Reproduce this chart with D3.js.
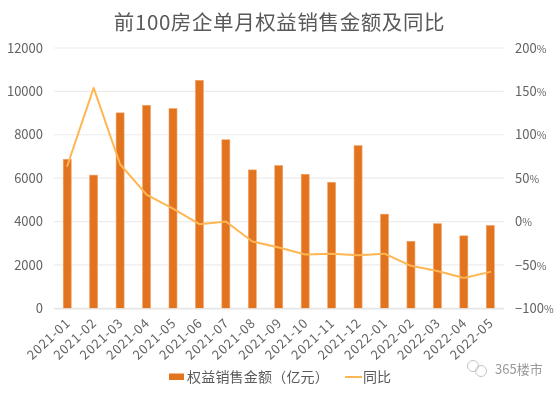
<!DOCTYPE html>
<html>
<head>
<meta charset="utf-8">
<script src="https://cdn.jsdelivr.net/npm/d3@7"></script>
<style>
  html, body { margin: 0; padding: 0; background: #fff; }
  text { font-family: "Noto Sans CJK SC", "Noto Sans", sans-serif; }
  svg { display: block; filter: blur(0.3px); }
</style>
</head>
<body>
<svg id="chart" width="558" height="393"></svg>
<script>
const months = ['2021-01', '2021-02', '2021-03', '2021-04', '2021-05', '2021-06', '2021-07', '2021-08', '2021-09',
  '2021-10', '2021-11', '2021-12', '2022-01', '2022-02', '2022-03', '2022-04', '2022-05'];
const sales = [6870, 6140, 9010, 9360, 9210, 10510, 7770, 6380, 6580, 6180, 5810, 7500, 4340, 3090, 3900, 3340, 3820];
const yoy = [64, 154, 66, 31, 15, -3, 0, -23, -30, -38, -37, -39, -37, -51, -57, -65, -58];
const salesTicks = [0, 2000, 4000, 6000, 8000, 10000, 12000];
const yoyTicks = [-100, -50, 0, 50, 100, 150, 200];

const svg = d3.select('#chart');
const plotLeft = 54, plotRight = 503.5, plotTop = 48, plotBottom = 308.3;
const textColor = '#636363';

const x = d3.scaleBand().domain(months).range([plotLeft, plotRight]);
const y = d3.scaleLinear().domain([0, 12000]).range([plotBottom, plotTop]);
const y2 = d3.scaleLinear().domain([-100, 200]).range([plotBottom, plotTop]);

svg.append('text')
  .attr('x', 279.5).attr('y', 30)
  .attr('text-anchor', 'middle')
  .attr('font-size', 20.5)
  .attr('letter-spacing', 0.6)
  .attr('fill', '#595959')
  .text('前100房企单月权益销售金额及同比');

// gridlines
svg.append('g').selectAll('line')
  .data(salesTicks)
  .enter()
  .append('line')
  .attr('x1', plotLeft).attr('x2', plotRight)
  .attr('y1', d => y(d)).attr('y2', d => y(d))
  .attr('stroke', '#ececec')
  .attr('stroke-width', 1.2);

// left axis
const leftAxis = svg.append('g')
  .attr('transform', `translate(${plotLeft},0)`)
  .call(d3.axisLeft(y).tickValues(salesTicks).tickFormat(d3.format('d')).tickSize(0).tickPadding(11));
leftAxis.select('.domain').remove();
leftAxis.selectAll('text').attr('font-size', 13).attr('fill', textColor);

// right axis, the % sign is narrow in the reference
const rightAxis = svg.append('g')
  .attr('transform', `translate(${plotRight},0)`)
  .call(d3.axisRight(y2).tickValues(yoyTicks).tickSize(0).tickPadding(11.5));
rightAxis.select('.domain').remove();
rightAxis.selectAll('text').attr('font-size', 13).attr('fill', textColor);
rightAxis.selectAll('text').append('tspan').attr('font-size', 10.5).text('%');

// bars
svg.append('g').selectAll('rect')
  .data(months)
  .enter()
  .append('rect')
  .attr('x', d => x(d) + x.bandwidth() / 2 - 4)
  .attr('y', (d, i) => y(sales[i]))
  .attr('width', 8)
  .attr('height', (d, i) => plotBottom - y(sales[i]))
  .attr('fill', '#e2741f')
  .attr('stroke', '#f2a469')
  .attr('stroke-width', 0.6);

// category labels
const bottomAxis = svg.append('g')
  .attr('transform', `translate(0,${plotBottom})`)
  .call(d3.axisBottom(x).tickSize(0));
bottomAxis.select('.domain').attr('stroke', '#e4e4e4').attr('stroke-width', 1.2);
bottomAxis.selectAll('text')
  .attr('font-size', 13)
  .attr('letter-spacing', 0.8)
  .attr('fill', textColor)
  .attr('text-anchor', 'end')
  .attr('dy', 0)
  .attr('transform', 'translate(2,13.5) rotate(-43)');

// yoy line
const line = d3.line()
  .x((d, i) => x(months[i]) + x.bandwidth() / 2)
  .y(d => y2(d));

svg.append('path')
  .attr('d', line(yoy))
  .attr('fill', 'none')
  .attr('stroke', '#ffb653')
  .attr('stroke-width', 2)
  .attr('stroke-linejoin', 'round')
  .attr('stroke-linecap', 'round');

// legend
svg.append('rect').attr('x', 169).attr('y', 373.5).attr('width', 15).attr('height', 6.5).attr('fill', '#e2741f');
svg.append('text').attr('x', 187).attr('y', 382).attr('font-size', 14).attr('letter-spacing', 0.2).attr('fill', '#595959').text('权益销售金额（亿元）');
svg.append('line').attr('x1', 345).attr('x2', 362).attr('y1', 377).attr('y2', 377).attr('stroke', '#ffb653').attr('stroke-width', 2);
svg.append('text').attr('x', 363).attr('y', 382).attr('font-size', 14).attr('fill', '#595959').text('同比');

// watermark
const mark = svg.append('g').attr('fill', 'none').attr('stroke', '#c4c4c4').attr('stroke-width', 1);
mark.append('circle').attr('cx', 473).attr('cy', 366).attr('r', 5.5);
mark.append('circle').attr('cx', 481).attr('cy', 371).attr('r', 5.5);
svg.append('text').attr('x', 495).attr('y', 374).attr('font-size', 13).attr('fill', '#9a9a9a').text('365楼市');
</script>
</body>
</html>
